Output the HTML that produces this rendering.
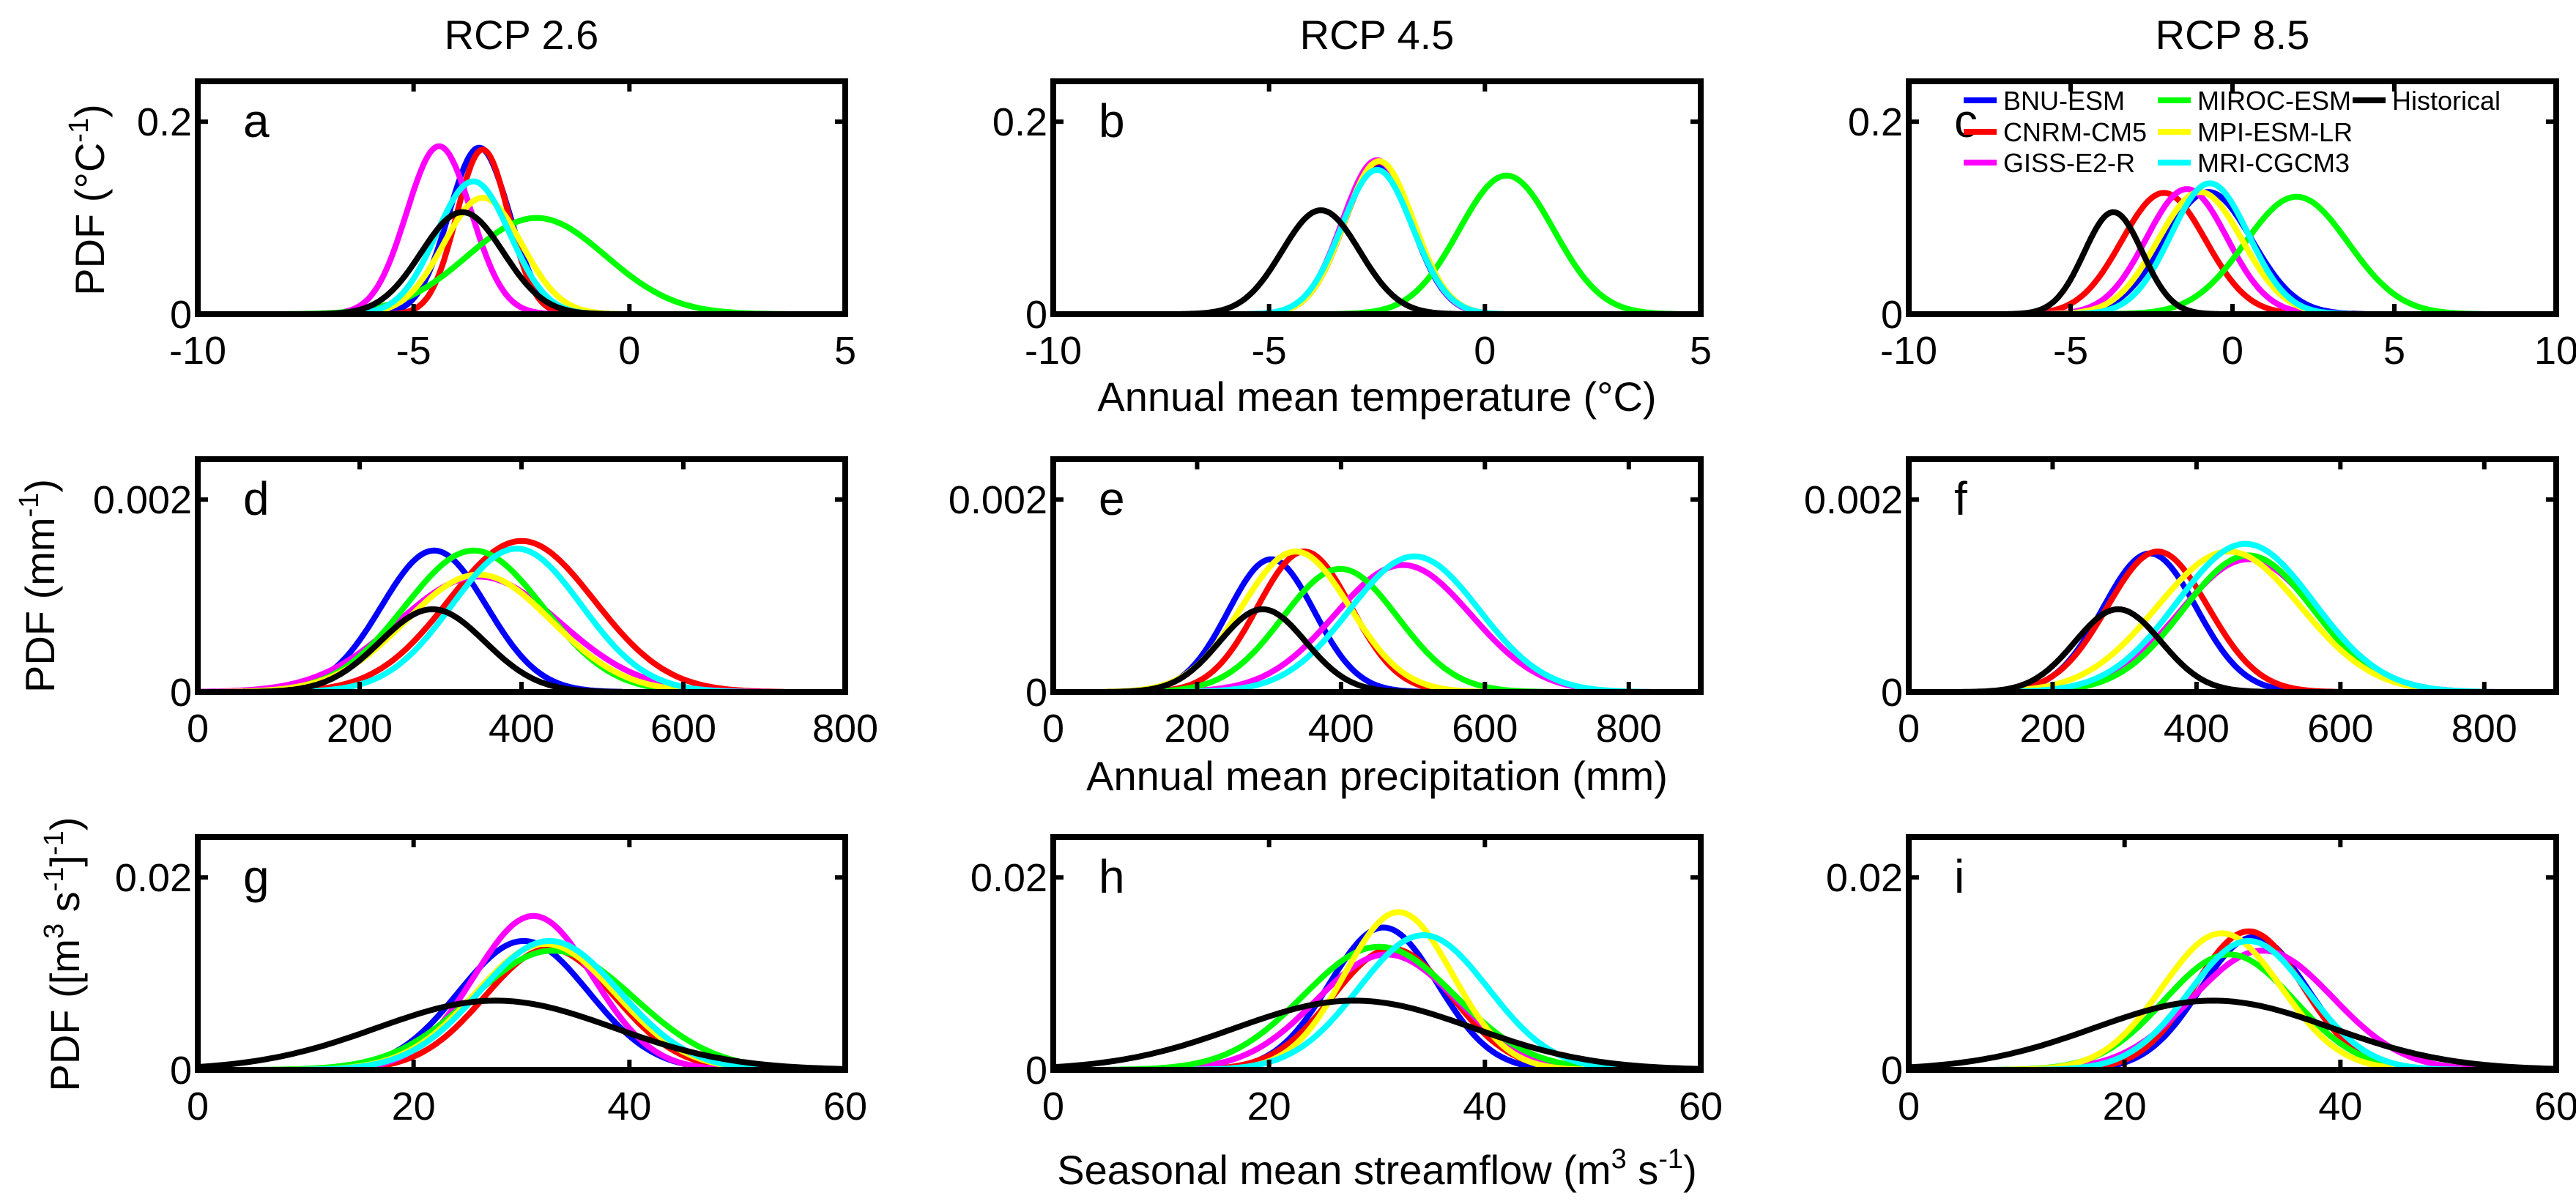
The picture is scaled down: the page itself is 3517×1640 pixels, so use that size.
<!DOCTYPE html>
<html><head><meta charset="utf-8"><title>PDF panels</title>
<style>
html,body{margin:0;padding:0;background:#fff;}
svg{display:block;font-family:"Liberation Sans",Arial,sans-serif;}
</style></head>
<body>
<svg id="fig" width="3517" height="1640" viewBox="0 0 3517 1640" xmlns="http://www.w3.org/2000/svg">
<rect width="3517" height="1640" fill="#fff"/>
<g id="titles" font-size="56" text-anchor="middle" fill="#000">
<text x="712" y="67">RCP 2.6</text>
<text x="1880" y="67">RCP 4.5</text>
<text x="3048" y="67">RCP 8.5</text>
<text x="1880" y="561">Annual mean temperature (°C)</text>
<text x="1880" y="1079">Annual mean precipitation (mm)</text>
<text x="1880" y="1617">Seasonal mean streamflow (m<tspan font-size="38" dy="-22">3</tspan><tspan dy="22"> s</tspan><tspan font-size="38" dy="-22">-1</tspan><tspan dy="22">)</tspan></text>
<text transform="translate(142,273) rotate(-90)">PDF (°C<tspan font-size="38" dy="-22">-1</tspan><tspan dy="22">)</tspan></text>
<text transform="translate(74,800) rotate(-90)">PDF (mm<tspan font-size="38" dy="-22">-1</tspan><tspan dy="22">)</tspan></text>
<text transform="translate(108,1303) rotate(-90)">PDF ([m<tspan font-size="38" dy="-22">3</tspan><tspan dy="22"> s</tspan><tspan font-size="38" dy="-22">-1</tspan><tspan dy="22">]</tspan><tspan font-size="38" dy="-22">-1</tspan><tspan dy="22">)</tspan></text>
</g>
<g id="panels"></g>
<g id="legend" font-size="36" fill="#000"></g>
</svg>
<script>
// Series order: BNU-ESM, CNRM-CM5, GISS-E2-R, MIROC-ESM, MPI-ESM-LR, MRI-CGCM3, Historical
const models = ["BNU-ESM","CNRM-CM5","GISS-E2-R","MIROC-ESM","MPI-ESM-LR","MRI-CGCM3","Historical"];
const colors = ["#0000ff","#ff0000","#ff00ff","#00ff00","#ffff00","#00ffff","#000000"];
const panelLetters = ["a","b","c","d","e","f","g","h","i"];

// x-axis ranges and ticks per panel
const xMin = [-10,-10,-10, 0,0,0, 0,0,0];
const xMax = [5,5,10, 800,900,900, 60,60,60];
const xTicks = [[-10,-5,0,5],[-10,-5,0,5],[-10,-5,0,5,10],[0,200,400,600,800],[0,200,400,600,800],[0,200,400,600,800],[0,20,40,60],[0,20,40,60],[0,20,40,60]];
const yMax = [0.242,0.242,0.242, 0.00242,0.00242,0.00242, 0.0242,0.0242,0.0242];
const yTicks = [[0,0.2],[0,0.2],[0,0.2],[0,0.002],[0,0.002],[0,0.002],[0,0.02],[0,0.02],[0,0.02]];
const yTickLabels = [["0","0.2"],["0","0.2"],["0","0.2"],["0","0.002"],["0","0.002"],["0","0.002"],["0","0.02"],["0","0.02"],["0","0.02"]];

// Distribution means per panel (order as models)
const means = [
 [-3.48,-3.4,-4.41,-2.15,-3.4,-3.62,-3.87],
 [-2.5,-2.45,-2.5,0.5,-2.45,-2.5,-3.8],
 [-0.75,-2.12,-1.41,1.98,-1.0,-0.7,-3.68],
 [292,400,347,341,347,394,290],
 [303,349,486,399,337,502,291],
 [335,346,472,472,445,468,291],
 [30.2,32.6,31.1,32.9,32.2,32.6,27.6],
 [30.6,31.4,30.9,30.2,32,34.3,27.9],
 [32,31.5,32.8,29.7,29,31.5,28.2]
];
// Distribution spreads per panel
const sds = [
 [0.7,0.6,0.75,1.6,0.9,0.85,0.95],
 [0.8,0.8,0.8,1.1,0.8,0.82,0.9],
 [1.35,1.3,1.25,1.6,1.3,1.2,0.9],
 [65,90,100,85,90,80,65],
 [60,65,95,80,75,90,60],
 [65,70,95,90,100,95,60],
 [6,6,5.5,7.5,6.5,6.5,11],
 [5,5.5,6.5,7,5,6,11],
 [5,5,6.5,6,5.5,5.5,11]
];
// Peak density per panel
const peaks = [
 [0.173,0.171,0.1745,0.1,0.121,0.138,0.106],
 [0.155,0.158,0.16,0.144,0.159,0.15,0.108],
 [0.127,0.126,0.130,0.122,0.127,0.136,0.106],
 [0.00147,0.00157,0.0012,0.00147,0.00122,0.00149,0.00086],
 [0.00138,0.00146,0.00132,0.00128,0.00146,0.00141,0.00086],
 [0.00144,0.00146,0.00138,0.00142,0.00146,0.00154,0.00086],
 [0.0134,0.0126,0.016,0.0124,0.0131,0.0134,0.0072],
 [0.0148,0.0126,0.012,0.0128,0.0164,0.014,0.0072],
 [0.0138,0.0144,0.0124,0.012,0.0142,0.0134,0.0072]
];

const NS = "http://www.w3.org/2000/svg";
const colLeft = [270,1438,2606];
const rowTop = [111,627,1143];
const W = 884, H = 318;
const panelsG = document.getElementById("panels");
function mk(tag, attrs, parent){
  const e = document.createElementNS(NS, tag);
  for (const k in attrs) e.setAttribute(k, attrs[k]);
  parent.appendChild(e);
  return e;
}
for (let p = 0; p < 9; p++) {
  const L = colLeft[p%3], T = rowTop[Math.floor(p/3)];
  const sx = v => L + (v - xMin[p]) / (xMax[p] - xMin[p]) * W;
  const sy = v => T + H - v / yMax[p] * H;
  const g = mk("g", {}, panelsG);
  
  
  const cp = mk("clipPath", {id: "clip" + p}, g);
  mk("rect", {x: L, y: T, width: W, height: H}, cp);
  const curves = mk("g", {"clip-path": "url(#clip" + p + ")"}, g);
  for (let s = 0; s < models.length; s++) {
    const m = means[p][s], sd = sds[p][s], pk = peaks[p][s];
    let d = "";
    const n = 160;
    for (let i = 0; i <= n; i++) {
      const x = m - 3.6*sd + 7.2*sd*i/n;
      const y = pk * Math.exp(-0.5*((x-m)/sd)**2);
      d += (i ? "L" : "M") + sx(x).toFixed(1) + "," + sy(y).toFixed(1);
    }
    const path = mk("path", {d: d, fill: "none", stroke: colors[s], "stroke-width": 8, "stroke-linejoin": "round"}, curves);
    
    
  }
  // axes box
  const box = mk("rect", {x: L, y: T, width: W, height: H, fill: "none", stroke: "#000", "stroke-width": 8}, g);
  
  
  // x ticks
  xTicks[p].forEach(v => {
    const x = sx(v);
    mk("line", {x1: x, y1: T + H, x2: x, y2: T + H - 14, stroke: "#000", "stroke-width": 6}, g);
    mk("line", {x1: x, y1: T, x2: x, y2: T + 14, stroke: "#000", "stroke-width": 6}, g);
    const t = mk("text", {x: x, y: T + H + 68, "font-size": 54, "text-anchor": "middle"}, g);
    t.textContent = String(v);
    
    
  });
  yTicks[p].forEach((v, i) => {
    const y = sy(v);
    mk("line", {x1: L, y1: y, x2: L + 14, y2: y, stroke: "#000", "stroke-width": 6}, g);
    mk("line", {x1: L + W, y1: y, x2: L + W - 14, y2: y, stroke: "#000", "stroke-width": 6}, g);
    const t = mk("text", {x: L - 8, y: y + 19, "font-size": 54, "text-anchor": "end"}, g);
    t.textContent = yTickLabels[p][i];
    
    
  });
  const lt = mk("text", {x: L + 62, y: T + 76, "font-size": 64}, g);
  lt.textContent = panelLetters[p];
  
  
}
// legend in panel c
const legG = document.getElementById("legend");
const legX = [2681,2946,3212], legY = [137,180,222];
const legPos = [[0,0],[0,1],[0,2],[1,0],[1,1],[1,2],[2,0]];
models.forEach((name, s) => {
  const c = legPos[s][0], r = legPos[s][1];
  const e = mk("g", {}, legG);
  
  
  mk("line", {x1: legX[c], y1: legY[r], x2: legX[c] + 45, y2: legY[r], stroke: colors[s], "stroke-width": 8}, e);
  const t = mk("text", {x: legX[c] + 54, y: legY[r] + 13}, e);
  t.textContent = name;
});
</script>
</body></html>
